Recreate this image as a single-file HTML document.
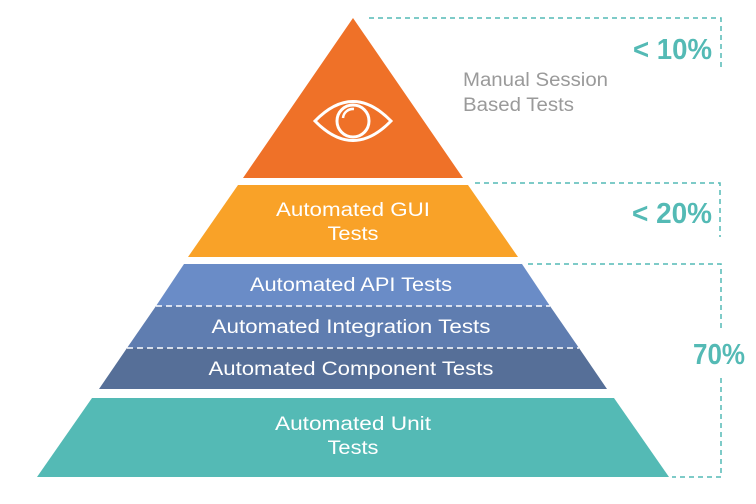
<!DOCTYPE html>
<html><head><meta charset="utf-8"><style>
html,body{margin:0;padding:0;background:#fff;}
svg{display:block;}
.w{font-family:"Liberation Sans",sans-serif;font-size:19px;fill:#fff;text-anchor:middle;}
.p{font-family:"Liberation Sans",sans-serif;font-weight:bold;font-size:29px;fill:#54BAB5;}
</style></head><body>
<svg width="756" height="504" viewBox="0 0 756 504" xmlns="http://www.w3.org/2000/svg">
<polygon points="353,18 463,178 243,178" fill="#EF7128"/>
<polygon points="238,185 468,185 518,257 188,257" fill="#F9A228"/>
<polygon points="184,264 522,264 550,306 156,306" fill="#6A8CC7"/>
<polygon points="156,306 550,306 579,348 127,348" fill="#5F7DB0"/>
<polygon points="127,348 579,348 607,389 99,389" fill="#566F98"/>
<line x1="156" y1="306" x2="550" y2="306" stroke="#fff" stroke-width="1.5" stroke-dasharray="6,4"/>
<line x1="127" y1="348" x2="579" y2="348" stroke="#fff" stroke-width="1.5" stroke-dasharray="6,4"/>
<polygon points="92,398 614,398 669,477 37,477" fill="#54BAB5"/>
<g fill="none" stroke="#fff" stroke-width="3">
<path d="M315,121 Q353,82 391,121 Q353,160 315,121 Z"/>
<circle cx="353" cy="121" r="16"/>
<path d="M343,118 A10,10 0 0 1 354,109" stroke-width="2.5"/>
</g>
<g fill="none" stroke="#54BAB5" stroke-width="1.5" stroke-dasharray="5,4">
<polyline points="369,18 721,18 721,71"/>
<polyline points="475,183 720,183 720,237"/>
<polyline points="528,264 721,264 721,330"/>
<polyline points="721,378 721,477 672,477"/>
</g>
<text class="p" x="633" y="59" textLength="79" lengthAdjust="spacingAndGlyphs">&lt; 10%</text>
<text class="p" x="632" y="223" textLength="80" lengthAdjust="spacingAndGlyphs">&lt; 20%</text>
<text class="p" x="693" y="364" textLength="52" lengthAdjust="spacingAndGlyphs">70%</text>
<text x="463" y="86" font-family="Liberation Sans,sans-serif" font-size="19" fill="#9a9a9a" textLength="145" lengthAdjust="spacingAndGlyphs">Manual Session</text>
<text x="463" y="111" font-family="Liberation Sans,sans-serif" font-size="19" fill="#9a9a9a" textLength="111" lengthAdjust="spacingAndGlyphs">Based Tests</text>
<text class="w" x="353" y="216" textLength="154" lengthAdjust="spacingAndGlyphs">Automated GUI</text>
<text class="w" x="353" y="240" textLength="51" lengthAdjust="spacingAndGlyphs">Tests</text>
<text class="w" x="351" y="291" textLength="202" lengthAdjust="spacingAndGlyphs">Automated API Tests</text>
<text class="w" x="351" y="333" textLength="279" lengthAdjust="spacingAndGlyphs">Automated Integration Tests</text>
<text class="w" x="351" y="375" textLength="285" lengthAdjust="spacingAndGlyphs">Automated Component Tests</text>
<text class="w" x="353" y="430" textLength="156" lengthAdjust="spacingAndGlyphs">Automated Unit</text>
<text class="w" x="353" y="454" textLength="51" lengthAdjust="spacingAndGlyphs">Tests</text>
</svg>
</body></html>
